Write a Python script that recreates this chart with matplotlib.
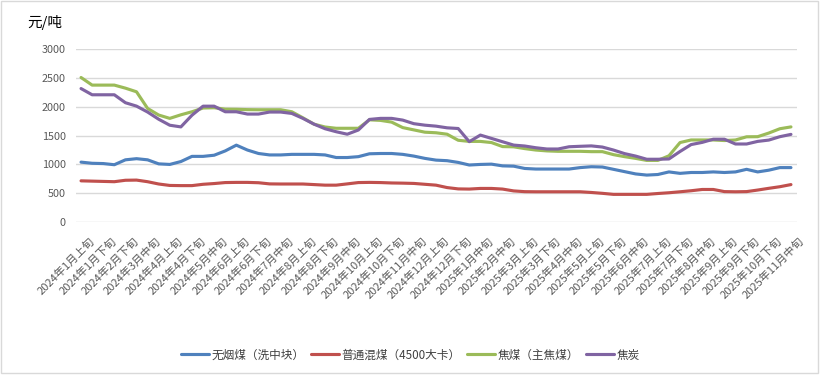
import matplotlib
matplotlib.use("Agg")
import matplotlib.pyplot as plt
import matplotlib.transforms as mtransforms
from matplotlib.patches import Rectangle

plt.rcParams['font.family'] = ['Noto Sans CJK SC', 'DejaVu Sans']

periods = [
    "2024年1月上旬", "2024年1月中旬", "2024年1月下旬", "2024年2月上旬", "2024年2月下旬",
    "2024年3月上旬", "2024年3月中旬", "2024年3月下旬", "2024年4月上旬", "2024年4月中旬",
    "2024年4月下旬", "2024年5月上旬", "2024年5月中旬", "2024年5月下旬", "2024年6月上旬",
    "2024年6月中旬", "2024年6月下旬", "2024年7月上旬", "2024年7月中旬", "2024年7月下旬",
    "2024年8月上旬", "2024年8月中旬", "2024年8月下旬", "2024年9月上旬", "2024年9月中旬",
    "2024年9月下旬", "2024年10月上旬", "2024年10月中旬", "2024年10月下旬", "2024年11月上旬",
    "2024年11月中旬", "2024年11月下旬", "2024年12月上旬", "2024年12月中旬", "2024年12月下旬",
    "2025年1月上旬", "2025年1月中旬", "2025年1月下旬", "2025年2月中旬", "2025年2月下旬",
    "2025年3月上旬", "2025年3月中旬", "2025年3月下旬", "2025年4月上旬", "2025年4月中旬",
    "2025年4月下旬", "2025年5月上旬", "2025年5月中旬", "2025年5月下旬", "2025年6月上旬",
    "2025年6月中旬", "2025年6月下旬", "2025年7月上旬", "2025年7月中旬", "2025年7月下旬",
    "2025年8月上旬", "2025年8月中旬", "2025年8月下旬", "2025年9月上旬", "2025年9月中旬",
    "2025年9月下旬", "2025年10月中旬", "2025年10月下旬", "2025年11月上旬", "2025年11月中旬",
]

anthracite = [
    1040, 1020, 1015, 995, 1080, 1100, 1080, 1010, 1000, 1050,
    1140, 1140, 1160, 1235, 1335, 1250, 1190, 1165, 1165, 1175,
    1175, 1175, 1165, 1120, 1120, 1135, 1185, 1190, 1190, 1175,
    1145, 1105, 1075, 1065, 1035, 990, 1000, 1005, 975, 970,
    930, 920, 920, 920, 920, 945, 960, 955, 915, 875,
    835, 815, 825, 870, 845, 860, 860, 870, 860, 870,
    915, 870, 900, 945, 945,
]

mixed_coal = [
    715, 710, 705, 700, 725, 728, 700, 660, 635, 632,
    632, 655, 668, 685, 688, 688, 682, 662, 660, 660,
    660, 650, 640, 640, 662, 685, 688, 685, 678, 675,
    670, 655, 640, 598, 575, 572, 583, 583, 572, 540,
    527, 525, 525, 525, 525, 525, 513, 498, 480, 480,
    480, 480, 495, 508, 525, 543, 565, 565, 528, 525,
    528, 555, 585, 613, 650,
]

coking_coal = [
    2510, 2378, 2378, 2378, 2325, 2262, 1973, 1858, 1800, 1862,
    1915, 1980, 1985, 1960, 1958, 1952, 1950, 1950, 1950, 1915,
    1810, 1700, 1650, 1628, 1628, 1628, 1775, 1765, 1735, 1640,
    1600, 1560, 1550, 1525, 1420, 1400, 1400, 1380, 1310, 1306,
    1275, 1250, 1235, 1228, 1228, 1228, 1222, 1222, 1170, 1135,
    1105, 1070, 1070, 1150, 1380, 1425, 1425, 1425, 1415, 1425,
    1480, 1482, 1545, 1620, 1652,
]

coke = [
    2318, 2210, 2210, 2210, 2072, 2013, 1910, 1785, 1681, 1652,
    1855, 2012, 2012, 1915, 1915, 1875, 1875, 1910, 1910, 1886,
    1800, 1700, 1620, 1568, 1525, 1598, 1782, 1800, 1800, 1770,
    1708, 1682, 1665, 1636, 1624, 1395, 1510, 1452, 1394, 1336,
    1320, 1290, 1268, 1268, 1307, 1315, 1322, 1302, 1250, 1188,
    1145, 1090, 1090, 1095, 1225, 1345, 1383, 1438, 1438, 1355,
    1355, 1400, 1423, 1482, 1522,
]

series_names = ["无烟煤（洗中块）", "普通混煤（4500大卡）", "焦煤（主焦煤）", "焦炭"]
series_values = [anthracite, mixed_coal, coking_coal, coke]
colors = ["#4F81BD", "#C0504D", "#9BBB59", "#8064A2"]
y_ticks = [0, 500, 1000, 1500, 2000, 2500, 3000]
unit_label = "元/吨"

W, H = 822, 375
fig = plt.figure(figsize=(W / 100, H / 100), dpi=100)
ax = fig.add_axes([75.5 / W, 1 - 222 / H, 721 / W, (222 - 49.3) / H])

x = list(range(len(periods)))
for name, vals, c in zip(series_names, series_values, colors):
    ax.plot(x, vals, color=c, lw=2.25, label=name, solid_joinstyle='round', solid_capstyle='round')

ax.set_xlim(-0.5, len(periods) - 0.5)
ax.set_ylim(0, 3000)
ax.set_yticks(y_ticks)
ax.set_yticklabels([str(v) for v in y_ticks])
ax.grid(axis='y', color='#D9D9D9', lw=1.0)
ax.set_axisbelow(True)
for s in ax.spines.values():
    s.set_visible(False)
ax.tick_params(axis='y', length=0, pad=7, labelsize=7.8, labelcolor='#595959')

tick_idx = x[::2]
ax.set_xticks(tick_idx)
ax.set_xticklabels([periods[i] for i in tick_idx], rotation=45, ha='right', va='top',
                   rotation_mode='anchor', fontsize=8.0, color='#595959')
ax.tick_params(axis='x', length=0, pad=10)
offset = mtransforms.ScaledTranslation(8 / 100, 0, fig.dpi_scale_trans)
for lbl in ax.get_xticklabels():
    lbl.set_transform(lbl.get_transform() + offset)

fig.text(27 / W, 1 - 23 / H, unit_label, ha='left', va='center', fontsize=10.5, color='#000000')

fig.legend(loc='center', bbox_to_anchor=(0.499, 1 - 355 / H), ncol=4, frameon=False,
           fontsize=8.4, handlelength=2.4, handletextpad=0.2, columnspacing=0.6,
           labelcolor='#404040')

fig.patches.append(Rectangle((1 / W, 2 / H), 817 / W, 372 / H, transform=fig.transFigure,
                             fill=False, edgecolor='#D9D9D9', lw=1.0))

fig.savefig("out.png", dpi=100, facecolor='white')
